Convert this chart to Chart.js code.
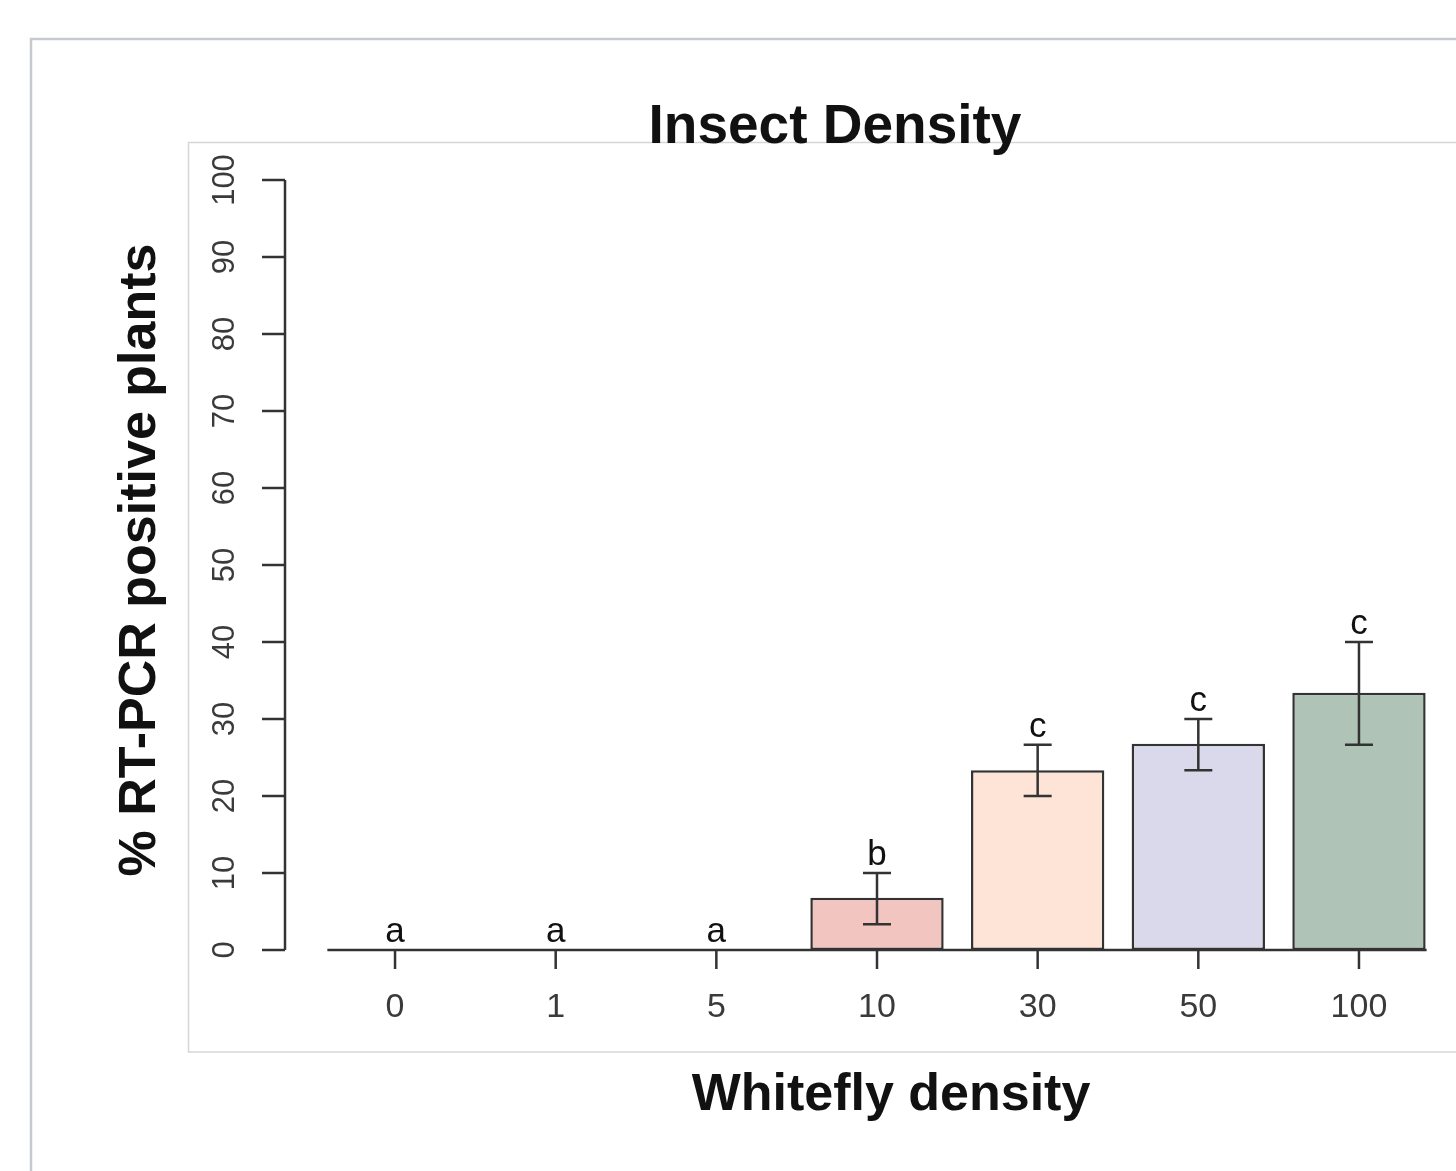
<!DOCTYPE html>
<html>
<head>
<meta charset="utf-8">
<script src="https://cdn.jsdelivr.net/npm/chart.js@4.4.1/dist/chart.umd.min.js"></script>
<style>
  html, body { margin: 0; padding: 0; background: #ffffff; }
  #wrap { position: relative; width: 1456px; height: 1171px; }
  canvas { display: block; }
</style>
</head>
<body>
<div id="wrap"><canvas id="c" width="1456" height="1171"></canvas></div>
<script>
// ---- data ----
const categories = ['0', '1', '5', '10', '30', '50', '100'];
const percentPositive = [0, 0, 0, 6.8, 23.33, 26.8, 33.4];
const errorLow = [null, null, null, 3.33, 20, 23.33, 26.67];
const errorHigh = [null, null, null, 10, 26.67, 30, 40];
const groupLetters = ['a', 'a', 'a', 'b', 'c', 'c', 'c'];
const yTicks = [0, 10, 20, 30, 40, 50, 60, 70, 80, 90, 100];
const barColors = ['#ffffff', '#ffffff', '#ffffff', '#f2c5c1', '#fde4d7', '#d9d9eb', '#afc4b7'];

const chartTitle = 'Insect Density';
const xTitle = 'Whitefly density';
const yTitle = '% RT-PCR positive plants';

const FONT = '"Liberation Sans", Arial, Helvetica, sans-serif';
const AXIS_COLOR = '#333333';

const decorPlugin = {
  id: 'decor',
  beforeDraw(chart) {
    const ctx = chart.ctx;
    ctx.save();
    ctx.fillStyle = '#ffffff';
    ctx.fillRect(0, 0, chart.width, chart.height);
    // outer frame
    ctx.strokeStyle = '#c6cacf';
    ctx.lineWidth = 2.5;
    ctx.beginPath();
    ctx.moveTo(31, 1180);
    ctx.lineTo(31, 39);
    ctx.lineTo(1470, 39);
    ctx.stroke();
    // inner plot box
    ctx.strokeStyle = '#d6d6d6';
    ctx.lineWidth = 1.5;
    ctx.strokeRect(188.5, 142.5, 1400, 909.5);
    ctx.restore();
  },
  afterDatasetsDraw(chart) {
    const ctx = chart.ctx;
    const xs = chart.scales.x;
    const ys = chart.scales.y;
    const meta = chart.getDatasetMeta(0);
    ctx.save();
    ctx.strokeStyle = AXIS_COLOR;
    ctx.lineWidth = 2.5;
    ctx.lineCap = 'butt';

    // error bars
    for (let i = 0; i < categories.length; i++) {
      if (errorLow[i] == null || errorHigh[i] == null) continue;
      const x = meta.data[i].x;
      const y1 = ys.getPixelForValue(errorLow[i]);
      const y2 = ys.getPixelForValue(errorHigh[i]);
      const cap = 14;
      ctx.beginPath();
      ctx.moveTo(x, y1); ctx.lineTo(x, y2);
      ctx.moveTo(x - cap, y1); ctx.lineTo(x + cap, y1);
      ctx.moveTo(x - cap, y2); ctx.lineTo(x + cap, y2);
      ctx.stroke();
    }

    // x axis line spanning bars
    const first = meta.data[0], last = meta.data[meta.data.length - 1];
    const y0 = ys.getPixelForValue(0);
    ctx.beginPath();
    ctx.moveTo(first.x - first.width / 2 - 1, y0);
    ctx.lineTo(last.x + last.width / 2 + 1, y0);
    ctx.stroke();

    // x ticks and labels
    ctx.fillStyle = '#3a3a3a';
    ctx.font = '34px ' + FONT;
    ctx.textAlign = 'center';
    ctx.textBaseline = 'middle';
    for (let i = 0; i < categories.length; i++) {
      const x = xs.getPixelForValue(i);
      ctx.beginPath();
      ctx.moveTo(x, y0); ctx.lineTo(x, y0 + 19);
      ctx.stroke();
      ctx.fillText(categories[i], x, y0 + 58);
    }

    // letters above bars
    ctx.fillStyle = '#111111';
    ctx.font = '35px ' + FONT;
    ctx.textBaseline = 'alphabetic';
    for (let i = 0; i < categories.length; i++) {
      const top = errorHigh[i] != null ? errorHigh[i] : percentPositive[i];
      const y = ys.getPixelForValue(top) - 8;
      ctx.fillText(groupLetters[i], meta.data[i].x, y);
    }

    // y axis (detached, R style)
    const ax = 285;
    const yTop = ys.getPixelForValue(yTicks[yTicks.length - 1]);
    ctx.beginPath();
    ctx.moveTo(ax, yTop); ctx.lineTo(ax, y0);
    ctx.stroke();
    ctx.fillStyle = '#3a3a3a';
    ctx.font = '31px ' + FONT;
    for (const t of yTicks) {
      const y = ys.getPixelForValue(t);
      ctx.beginPath();
      ctx.moveTo(ax - 23, y); ctx.lineTo(ax, y);
      ctx.stroke();
      ctx.save();
      ctx.translate(225, y);
      ctx.rotate(-Math.PI / 2);
      ctx.textAlign = 'center';
      ctx.textBaseline = 'middle';
      ctx.fillText(String(t), 0, 0);
      ctx.restore();
    }

    // titles
    ctx.fillStyle = '#111111';
    ctx.textAlign = 'center';
    ctx.textBaseline = 'alphabetic';
    ctx.font = 'bold 55px ' + FONT;
    ctx.fillText(chartTitle, 835, 143);
    ctx.font = 'bold 52px ' + FONT;
    ctx.fillText(xTitle, 891, 1110);
    ctx.save();
    ctx.translate(155, 560);
    ctx.rotate(-Math.PI / 2);
    ctx.fillText(yTitle, 0, 0);
    ctx.restore();

    ctx.restore();
  }
};

new Chart(document.getElementById('c'), {
  type: 'bar',
  data: {
    labels: categories,
    datasets: [{
      data: percentPositive,
      backgroundColor: barColors,
      borderColor: '#333333',
      borderWidth: 2.5,
      borderSkipped: false,
      barPercentage: 0.83,
      categoryPercentage: 1.0
    }]
  },
  options: {
    responsive: false,
    devicePixelRatio: 1,
    animation: false,
    layout: { padding: { left: 314.7, right: 16.7, top: 180, bottom: 221 } },
    plugins: { legend: { display: false }, title: { display: false }, tooltip: { enabled: false } },
    scales: {
      x: { display: false, offset: true },
      y: { display: false, min: 0, max: 100 }
    }
  },
  plugins: [decorPlugin]
});
</script>
</body>
</html>
